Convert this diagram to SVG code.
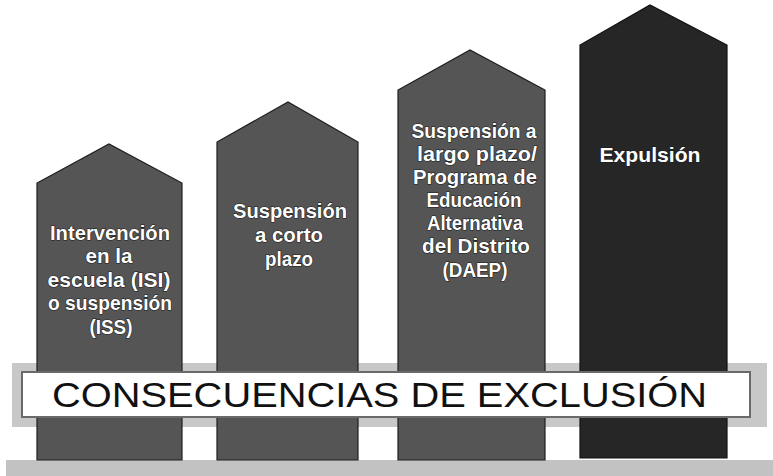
<svg xmlns="http://www.w3.org/2000/svg" width="773" height="476" viewBox="0 0 773 476">
  <defs>
    <style>
      .col { fill: #555555; stroke: #1e1e1e; stroke-width: 1.2; }
      .col4 { fill: #262626; stroke: #111; stroke-width: 1.2; }
      .lbl { font-family: "Liberation Sans", Arial, sans-serif; font-weight: bold; font-size: 21px; fill: #ffffff; stroke: #1a1a1a; stroke-width: 1.2; paint-order: stroke; text-anchor: middle; }
      .banner-text { font-family: "Liberation Sans", Arial, sans-serif; font-size: 35px; fill: #111; }
    </style>
  </defs>
  <rect width="773" height="476" fill="#ffffff"/>
  <!-- ground strip and banner shadow band -->
  <rect x="6" y="460" width="767" height="16" fill="#c2c2c2"/>
  <rect x="12" y="363" width="755" height="64" fill="#c8c8c8"/>
  <g id="connectors"></g>
  <g id="node-isi">
    <polygon class="col" points="37,460 37,183 109,144 182,183 182,460"/>
    <text class="lbl" x="110" y="240" textLength="120" lengthAdjust="spacingAndGlyphs">Intervención</text>
    <text class="lbl" x="109" y="263" textLength="47" lengthAdjust="spacingAndGlyphs">en la</text>
    <text class="lbl" x="109" y="287" textLength="123" lengthAdjust="spacingAndGlyphs">escuela (ISI)</text>
    <text class="lbl" x="110" y="310" textLength="124" lengthAdjust="spacingAndGlyphs">o suspensión</text>
    <text class="lbl" x="111" y="334" textLength="43" lengthAdjust="spacingAndGlyphs">(ISS)</text>
  </g>
  <g id="node-corto">
    <polygon class="col" points="217,460 217,142 288,102 358,142 358,460"/>
    <text class="lbl" x="290" y="218" textLength="114" lengthAdjust="spacingAndGlyphs">Suspensión</text>
    <text class="lbl" x="289" y="242" textLength="68" lengthAdjust="spacingAndGlyphs">a corto</text>
    <text class="lbl" x="289" y="266" textLength="48" lengthAdjust="spacingAndGlyphs">plazo</text>
  </g>
  <g id="node-daep">
    <polygon class="col" points="398,460 398,90 470,50 545,90 545,460"/>
    <text class="lbl" x="474" y="138" textLength="125" lengthAdjust="spacingAndGlyphs">Suspensión a</text>
    <text class="lbl" x="477" y="161" textLength="120" lengthAdjust="spacingAndGlyphs">largo plazo/</text>
    <text class="lbl" x="475" y="184" textLength="124" lengthAdjust="spacingAndGlyphs">Programa de</text>
    <text class="lbl" x="474" y="207" textLength="95" lengthAdjust="spacingAndGlyphs">Educación</text>
    <text class="lbl" x="475" y="230" textLength="96" lengthAdjust="spacingAndGlyphs">Alternativa</text>
    <text class="lbl" x="476" y="253" textLength="108" lengthAdjust="spacingAndGlyphs">del Distrito</text>
    <text class="lbl" x="475" y="277" textLength="65" lengthAdjust="spacingAndGlyphs">(DAEP)</text>
  </g>
  <g id="node-expulsion">
    <polygon class="col4" points="580,458 580,45 650,5 727,45 727,458"/>
    <text class="lbl" x="650" y="162" textLength="101" lengthAdjust="spacingAndGlyphs">Expulsión</text>
  </g>
  <g id="banner">
    <rect x="22" y="372" width="728" height="45" fill="#ffffff" stroke="#6a6a6a" stroke-width="2"/>
    <text class="banner-text" x="52" y="407" textLength="655" lengthAdjust="spacingAndGlyphs">CONSECUENCIAS DE EXCLUSIÓN</text>
  </g>
</svg>
